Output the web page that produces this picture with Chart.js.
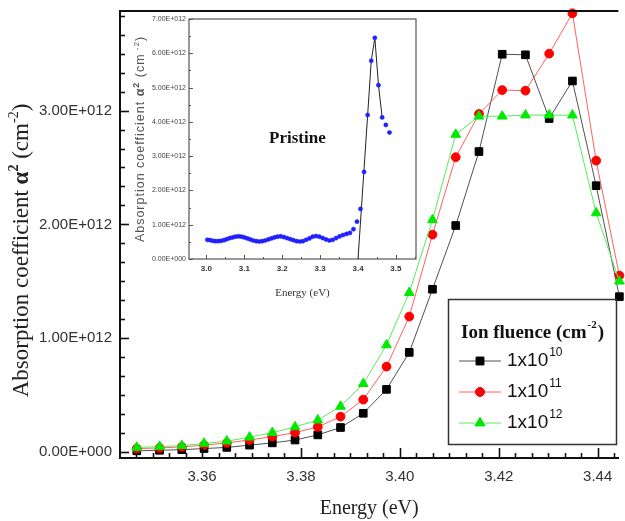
<!DOCTYPE html>
<html>
<head>
<meta charset="utf-8">
<script src="https://cdn.jsdelivr.net/npm/chart.js@4.4.1/dist/chart.umd.min.js"></script>
<style>
  html, body { margin: 0; padding: 0; background: #fff; overflow: hidden; }
  #wrap { position: relative; width: 625px; height: 521px; }
  #mainChart { position: absolute; left: 0; top: 0; }
  #insetChart { position: absolute; left: 130px; top: 8px; }
</style>
</head>
<body>
<div id="wrap">
  <canvas id="mainChart" width="625" height="521"></canvas>
  <canvas id="insetChart" width="300" height="295"></canvas>
</div>
<script>
// photon energy (eV) of each irradiated sample point
const energy = [3.3468, 3.3514, 3.3559, 3.3604, 3.3650, 3.3696, 3.3742, 3.3788, 3.3834, 3.3880, 3.3926,
                3.3973, 3.4019, 3.4066, 3.4113, 3.4160, 3.4207, 3.4254, 3.4302, 3.4349, 3.4397, 3.4444];
// alpha^2 in units of 1E+012 cm^-2
const alpha10 = [0.01, 0.015, 0.02, 0.03, 0.04, 0.06, 0.08, 0.105, 0.15, 0.215, 0.34,
                 0.55, 0.875, 1.43, 1.99, 2.64, 3.495, 3.49, 2.93, 3.26, 2.34, 1.365];
const alpha11 = [0.03, 0.035, 0.045, 0.06, 0.08, 0.105, 0.135, 0.17, 0.22, 0.31, 0.46,
                 0.75, 1.19, 1.91, 2.59, 2.97, 3.18, 3.175, 3.50, 3.855, 2.56, 1.55];
const alpha12 = [0.04, 0.047, 0.055, 0.075, 0.095, 0.13, 0.17, 0.22, 0.28, 0.40, 0.60,
                 0.94, 1.40, 2.04, 2.79, 2.95, 2.95, 2.96, 2.96, 2.96, 2.10, 1.50];
const fluenceExp = ['10', '11', '12'];
const xMajor = [3.36, 3.38, 3.40, 3.42, 3.44];
const yMajor = [0, 1, 2, 3];

// pristine sample (inset)
const pristineE = [3.0024, 3.0097, 3.0170, 3.0244, 3.0318, 3.0392, 3.0467, 3.0542, 3.0617, 3.0693,
                   3.0769, 3.0846, 3.0923, 3.1000, 3.1078, 3.1156, 3.1234, 3.1313, 3.1392, 3.1472,
                   3.1552, 3.1633, 3.1714, 3.1795, 3.1877, 3.1959, 3.2041, 3.2124, 3.2208, 3.2292,
                   3.2376, 3.2461, 3.2546, 3.2632, 3.2718, 3.2804, 3.2891, 3.2979, 3.3067, 3.3155,
                   3.3244, 3.3333, 3.3423, 3.3514, 3.3604, 3.3696, 3.3787, 3.3880, 3.3973, 3.4066,
                   3.4160, 3.4254, 3.4349, 3.4444, 3.4540, 3.4637, 3.4734, 3.4831];
const pristineA = [0.56, 0.55, 0.53, 0.52, 0.52, 0.53, 0.55, 0.58, 0.61, 0.63,
                   0.65, 0.66, 0.65, 0.63, 0.60, 0.57, 0.54, 0.52, 0.51, 0.52,
                   0.54, 0.57, 0.60, 0.63, 0.65, 0.66, 0.64, 0.61, 0.58, 0.55,
                   0.52, 0.51, 0.52, 0.56, 0.60, 0.65, 0.67, 0.65, 0.61, 0.57,
                   0.54, 0.56, 0.61, 0.66, 0.70, 0.73, 0.76, 0.87, 1.09, 1.46,
                   2.54, 4.20, 5.78, 6.45, 5.07, 4.13, 3.91, 3.69];
const edgeE = [3.400, 3.4254, 3.4349, 3.4444, 3.4540, 3.4637];
const edgeA = [0, 4.20, 5.78, 6.45, 5.07, 4.13];
const insetXMajor = [3.0, 3.1, 3.2, 3.3, 3.4, 3.5];
const insetYMajor = [0, 1, 2, 3, 4, 5, 6, 7];

function pts(xs, ys) {
    return xs.map((v, i) => ({x: v, y: ys[i]}));
}

function sciLabel(v) {
    return v === 0 ? '0.00E+000' : v.toFixed(2) + 'E+012';
}

// inward tick marks, major every `major` and `sub` subdivisions between
function drawTicks(ctx, scale, area, base, major, sub, majLen, minLen, horizontal) {
    let step = major / sub;
    let k0 = Math.ceil((scale.min - base) / step - 1e-6);
    let k1 = Math.floor((scale.max - base) / step + 1e-6);
    for (let k = k0; k <= k1; k++) {
        let v = base + k * step;
        let len = (((k % sub) + sub) % sub === 0) ? majLen : minLen;
        let p = Math.round(scale.getPixelForValue(v)) + 0.5;
        ctx.beginPath();
        if (horizontal) {
            ctx.moveTo(p, area.bottom);
            ctx.lineTo(p, area.bottom - len);
        } else {
            ctx.moveTo(area.left, p);
            ctx.lineTo(area.left + len, p);
        }
        ctx.stroke();
    }
}

function textWithSup(ctx, base, sup, x, y, font, supFont, supRise) {
    ctx.font = font;
    ctx.fillText(base, x, y);
    let w = ctx.measureText(base).width;
    ctx.font = supFont;
    ctx.fillText(sup, x + w + 1, y - supRise);
    return w + 1 + ctx.measureText(sup).width;
}

// rotated axis title made of [text, font, rise] runs, centred on (cx, cy)
function verticalTitle(ctx, runs, cx, cy, color) {
    ctx.save();
    ctx.translate(cx, cy);
    ctx.rotate(-Math.PI / 2);
    ctx.fillStyle = color;
    ctx.textBaseline = 'middle';
    ctx.textAlign = 'left';
    let total = 0;
    runs.forEach(r => { ctx.font = r[1]; total += ctx.measureText(r[0]).width; });
    let x = -total / 2;
    runs.forEach(r => {
        ctx.font = r[1];
        ctx.fillText(r[0], x, -r[2]);
        x += ctx.measureText(r[0]).width;
    });
    ctx.restore();
}

const mainFrame = {
    id: 'mainFrame',
    afterDraw(chart) {
        let ctx = chart.ctx, a = chart.chartArea;
        ctx.save();
        ctx.strokeStyle = '#111';
        ctx.lineWidth = 2;
        ctx.beginPath();
        ctx.moveTo(a.left - 1, a.top);
        ctx.lineTo(a.right, a.top);
        ctx.stroke();
        ctx.lineWidth = 1.6;
        drawTicks(ctx, chart.scales.x, a, 3.36, 0.02, 6, 10, 5, true);
        drawTicks(ctx, chart.scales.y, a, 0, 1, 6, 9, 5, false);
        ctx.restore();
        let serif = '"Liberation Serif"';
        verticalTitle(ctx, [
            ['Absorption coefficient ', '23px ' + serif, 0],
            ['α', 'bold 23px ' + serif, 0],
            ['2', 'bold 14px ' + serif, 8],
            [' (cm', '23px ' + serif, 0],
            ['-2', '14px ' + serif, 8],
            [')', '23px ' + serif, 0]
        ], 22, (a.top + a.bottom) / 2 + 16, '#222');
    }
};

const fluenceLegend = {
    id: 'fluenceLegend',
    afterDraw(chart) {
        let ctx = chart.ctx;
        ctx.save();
        ctx.strokeStyle = '#333';
        ctx.lineWidth = 1.5;
        ctx.strokeRect(448.5, 299.5, 168, 145);
        ctx.fillStyle = '#111';
        ctx.textBaseline = 'middle';
        textWithSup(ctx, 'Ion fluence (cm', '-2', 461, 333,
            'bold 19px "Liberation Serif"', 'bold 11px "Liberation Serif"', 8);
        let w0 = ctx.measureText('-2').width;
        ctx.font = 'bold 19px "Liberation Serif"';
        let wb = ctx.measureText('Ion fluence (cm').width;
        ctx.fillText(')', 461 + wb + 2 + w0, 333);
        let rows = [361, 392, 423];
        chart.data.datasets.forEach((ds, i) => {
            let y = rows[i];
            ctx.strokeStyle = ds.borderColor;
            ctx.lineWidth = 1;
            ctx.beginPath();
            ctx.moveTo(459, y);
            ctx.lineTo(501, y);
            ctx.stroke();
            Chart.helpers.drawPoint(ctx, {
                pointStyle: ds.pointStyle, radius: ds.pointRadius,
                borderWidth: 1, rotation: 0
            }, 480, y);
            ctx.fillStyle = ds.pointBackgroundColor;
            ctx.strokeStyle = ds.pointBorderColor;
            ctx.fill();
            ctx.stroke();
            ctx.fillStyle = '#111';
            textWithSup(ctx, '1x10', fluenceExp[i], 507, y,
                '19px "Liberation Sans"', '12px "Liberation Sans"', 8);
        });
        ctx.restore();
    }
};

new Chart(document.getElementById('mainChart'), {
    type: 'line',
    data: {
        datasets: [{
            label: '1x10^10',
            data: pts(energy, alpha10),
            borderColor: '#505050',
            borderWidth: 1,
            pointStyle: 'rect',
            pointRadius: 5.4,
            pointBackgroundColor: '#000',
            pointBorderColor: '#000',
            order: 2
        }, {
            label: '1x10^11',
            data: pts(energy, alpha11),
            borderColor: '#ff6060',
            borderWidth: 1,
            pointStyle: 'circle',
            pointRadius: 4.4,
            pointBackgroundColor: '#ff0000',
            pointBorderColor: '#ff0000',
            order: 1
        }, {
            label: '1x10^12',
            data: pts(energy, alpha12),
            borderColor: '#55ee55',
            borderWidth: 1,
            pointStyle: 'triangle',
            pointRadius: 5.6,
            pointBackgroundColor: '#00ea00',
            pointBorderColor: '#00ea00',
            order: 0
        }]
    },
    options: {
        responsive: false,
        animation: false,
        clip: false,
        layout: {padding: {top: 11, right: 0, left: 0, bottom: 0}},
        plugins: {legend: {display: false}, tooltip: {enabled: false}},
        elements: {line: {tension: 0}},
        scales: {
            x: {
                type: 'linear',
                min: 3.3434,
                max: 3.4442,
                afterBuildTicks: s => { s.ticks = xMajor.map(v => ({value: v})); },
                afterFit: s => { s.height = 63; s.paddingLeft = 0; s.paddingRight = 0; },
                ticks: {
                    callback: v => v.toFixed(2),
                    font: {family: 'Liberation Sans', size: 15},
                    color: '#333',
                    padding: 10,
                    maxRotation: 0,
                    autoSkip: false
                },
                grid: {drawOnChartArea: false, drawTicks: false},
                border: {color: '#111', width: 2},
                title: {
                    display: true,
                    text: 'Energy (eV)',
                    font: {family: 'Liberation Serif', size: 20},
                    color: '#222',
                    padding: {top: 0, bottom: 0}
                }
            },
            y: {
                min: -0.053,
                max: 3.875,
                afterBuildTicks: s => { s.ticks = yMajor.map(v => ({value: v})); },
                afterFit: s => { s.width = 120; s.paddingTop = 0; s.paddingBottom = 0; },
                ticks: {
                    callback: v => sciLabel(v),
                    font: {family: 'Liberation Sans', size: 15},
                    color: '#333',
                    padding: 8
                },
                grid: {drawOnChartArea: false, drawTicks: false},
                border: {color: '#111', width: 2}
            }
        }
    },
    plugins: [mainFrame, fluenceLegend]
});

const insetFrame = {
    id: 'insetFrame',
    afterDraw(chart) {
        let ctx = chart.ctx, a = chart.chartArea;
        ctx.save();
        ctx.strokeStyle = '#555';
        ctx.lineWidth = 1.2;
        ctx.strokeRect(a.left, a.top, a.right - a.left, a.bottom - a.top);
        ctx.lineWidth = 1;
        drawTicks(ctx, chart.scales.x, a, 3.0, 0.1, 2, 4, 2, true);
        drawTicks(ctx, chart.scales.y, a, 0, 1, 2, 4, 2, false);
        ctx.fillStyle = '#111';
        ctx.font = 'bold 17px "Liberation Serif"';
        ctx.textAlign = 'center';
        ctx.textBaseline = 'middle';
        ctx.fillText('Pristine', chart.scales.x.getPixelForValue(3.24), chart.scales.y.getPixelForValue(3.5));
        ctx.letterSpacing = '1px';
        let sans = '"Liberation Sans"';
        verticalTitle(ctx, [
            ['Absorption coefficient ', '12.5px ' + sans, 0],
            ['α', 'bold 12.5px ' + sans, 0],
            ['2', 'bold 9px ' + sans, 4],
            [' (cm', '12.5px ' + sans, 0],
            [' -2', '8px ' + sans, 4],
            [')', '12.5px ' + sans, 0]
        ], 11, (a.top + a.bottom) / 2, '#555');
        ctx.restore();
    }
};

new Chart(document.getElementById('insetChart'), {
    type: 'scatter',
    data: {
        datasets: [{
            data: pts(pristineE, pristineA),
            showLine: false,
            pointStyle: 'circle',
            pointRadius: 2.1,
            pointBackgroundColor: '#1f1fff',
            pointBorderColor: '#1f1fff',
            pointBorderWidth: 0.5
        }, {
            data: pts(edgeE, edgeA),
            showLine: true,
            borderColor: '#222',
            borderWidth: 1,
            pointRadius: 0
        }]
    },
    options: {
        responsive: false,
        animation: false,
        layout: {padding: {top: 11, right: 14, left: 0, bottom: 0}},
        plugins: {legend: {display: false}, tooltip: {enabled: false}},
        scales: {
            x: {
                type: 'linear',
                min: 2.954,
                max: 3.553,
                afterBuildTicks: s => { s.ticks = insetXMajor.map(v => ({value: v})); },
                afterFit: s => { s.height = 44; s.paddingLeft = 0; s.paddingRight = 0; },
                ticks: {
                    callback: v => v.toFixed(1),
                    font: {family: 'Liberation Sans', size: 8, weight: 'bold'},
                    color: '#333',
                    padding: 5,
                    maxRotation: 0,
                    autoSkip: false
                },
                grid: {drawOnChartArea: false, drawTicks: false},
                border: {display: false},
                title: {
                    display: true,
                    text: 'Energy (eV)',
                    font: {family: 'Liberation Serif', size: 11},
                    color: '#333',
                    padding: {top: 0, bottom: 3}
                }
            },
            y: {
                min: 0,
                max: 7,
                afterBuildTicks: s => { s.ticks = insetYMajor.map(v => ({value: v})); },
                afterFit: s => { s.width = 59; s.paddingTop = 0; s.paddingBottom = 0; },
                ticks: {
                    callback: v => sciLabel(v),
                    font: {family: 'Liberation Sans', size: 7},
                    color: '#444',
                    padding: 3
                },
                grid: {drawOnChartArea: false, drawTicks: false},
                border: {display: false}
            }
        }
    },
    plugins: [insetFrame]
});
</script>
</body>
</html>
